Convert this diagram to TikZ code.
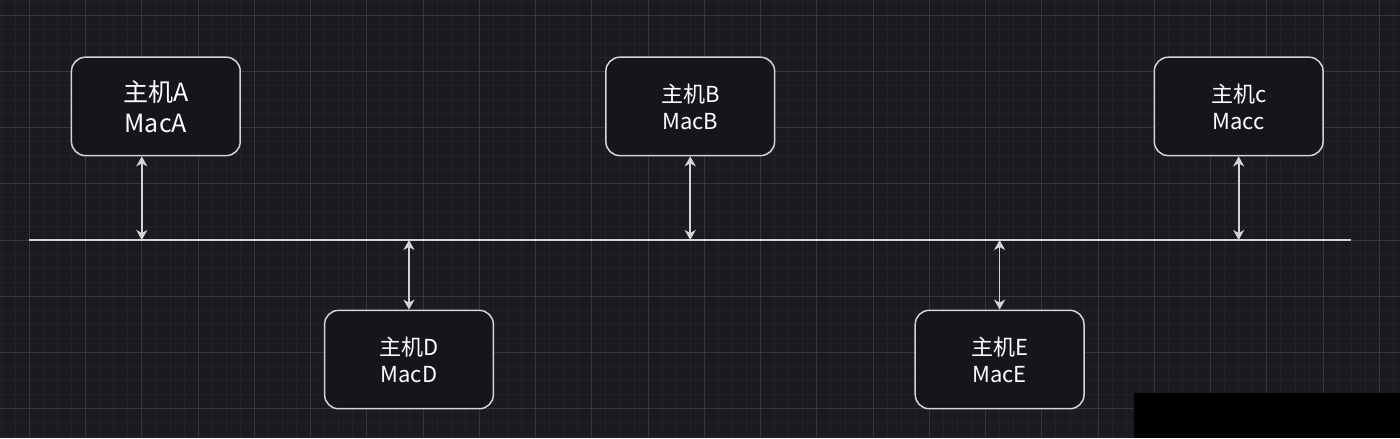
\documentclass[tikz,border=0pt]{standalone}
\usepackage{fontspec}
\usepackage{tikz}
\usetikzlibrary{arrows.meta}
\newfontfamily\cjk{Noto Sans CJK SC}

\definecolor{bgcol}{HTML}{1B1A21}
\definecolor{minorcol}{HTML}{232229}
\definecolor{majorcol}{HTML}{36353B}
\definecolor{boxfill}{HTML}{17151C}
\definecolor{edgecol}{HTML}{D4D4D4}

\tikzset{
    hostbox/.style={draw=edgecol, fill=boxfill, line width=1.5pt, rounded corners=14pt,
        minimum width=168.75pt, minimum height=98.4pt, align=center, text=white,
        font=\cjk\fontsize{22}{27}\selectfont},
    bigtext/.style={font=\cjk\fontsize{25}{31}\selectfont},
    conn/.style={{Stealth[length=10pt,width=11pt,inset=3pt]}-{Stealth[length=10pt,width=11pt,inset=3pt]},
        line width=1.7pt, draw=edgecol},
}

\begin{document}
\begin{tikzpicture}[x=1.40625pt, y=-1.40625pt]
    \useasboundingbox[fill=bgcol] (-20.83,-10.67) rectangle (974.72,300.8);

    % GRID
    \foreach \x in {-20,-10,...,970}
        \draw[color=minorcol, line width=0.8pt] (\x,-10.67) -- (\x,300.8);
    \foreach \y in {-10,0,...,300}
        \draw[color=minorcol, line width=0.8pt] (-20.83,\y) -- (974.72,\y);
    \foreach \x in {0,40,...,960}
        \draw[color=majorcol, line width=1pt] (\x,-10.67) -- (\x,300.8);
    \foreach \y in {0,40,...,280}
        \draw[color=majorcol, line width=1pt] (-20.83,\y) -- (974.72,\y);

    % BUS
    \coordinate (busL) at (0,160);
    \coordinate (busR) at (940,160);
    \draw[color=edgecol, line width=1.8pt] (busL) -- (busR);

    % HOSTS
    \node[hostbox, bigtext] (macA) at (90,65) {主机A\\MacA};
    \node[hostbox] (macB) at (470,65) {主机B\\MacB};
    \node[hostbox] (macC) at (860,65) {主机c\\Macc};
    \node[hostbox] (macD) at (270,245) {主机D\\MacD};
    \node[hostbox] (macE) at (690,245) {主机E\\MacE};

    % TAPS ON THE BUS
    \coordinate (tapA) at (80,160);
    \coordinate (tapB) at (470,160);
    \coordinate (tapC) at (860,160);
    \coordinate (tapD) at (270,160);
    \coordinate (tapE) at (690,160);

    \draw[conn] (tapA |- macA.south) -- (tapA);
    \draw[conn] (macB.south) -- (tapB);
    \draw[conn] (macC.south) -- (tapC);
    \draw[conn] (tapD) -- (macD.north);
    \draw[conn] (tapE) -- (macE.north);

    % CORNER PATCH
    \fill[black] (785.5,268.8) rectangle (974.72,300.8);
\end{tikzpicture}
\end{document}
